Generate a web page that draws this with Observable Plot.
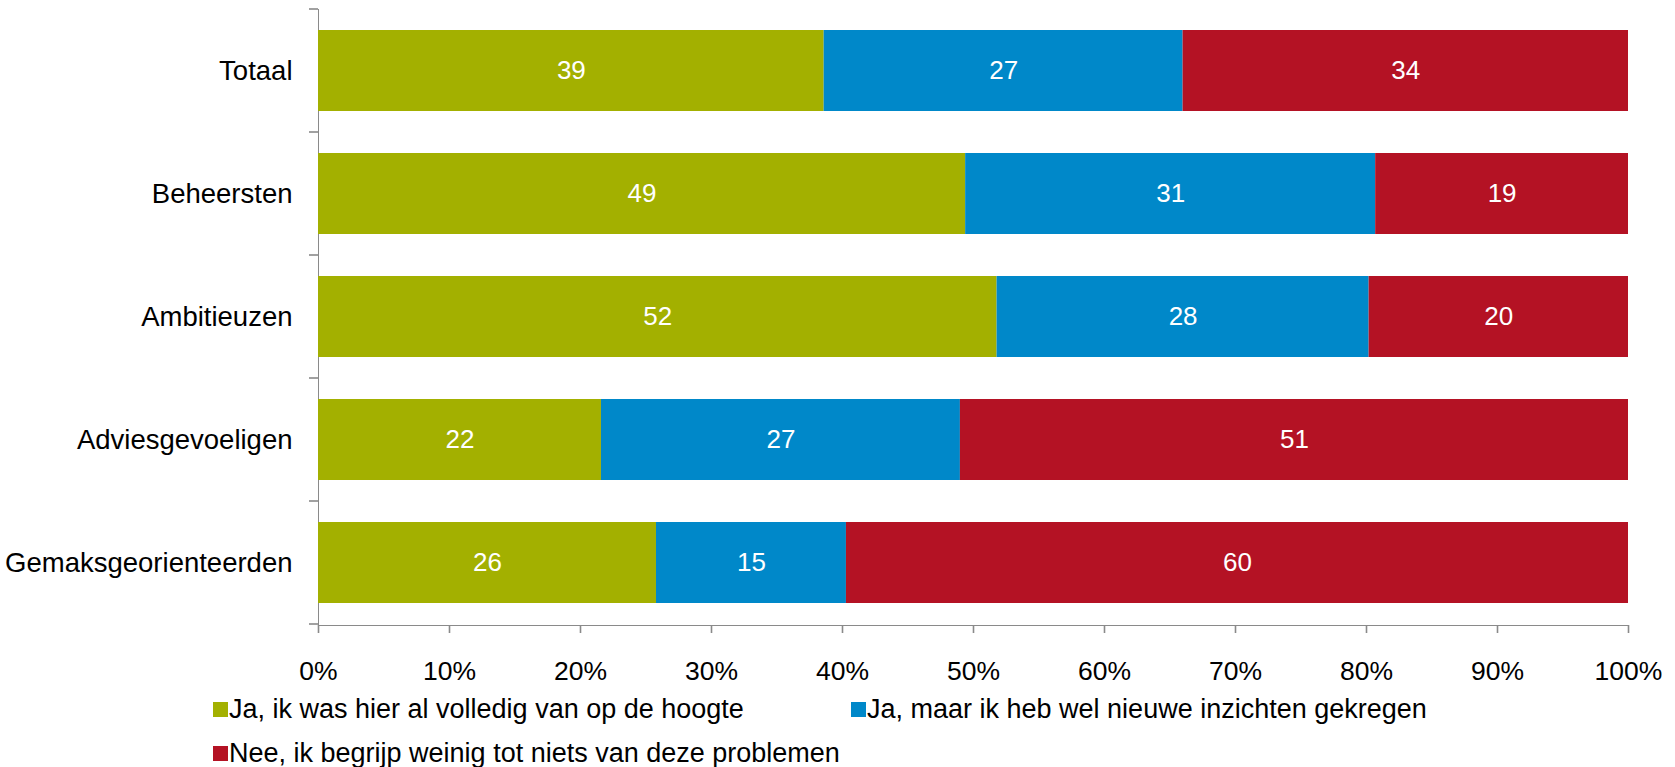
<!DOCTYPE html>
<html>
<head>
<meta charset="utf-8">
<script src="https://cdn.jsdelivr.net/npm/d3@7"></script>
<script src="https://cdn.jsdelivr.net/npm/@observablehq/plot@0.6"></script>
<style>
  html, body { margin: 0; padding: 0; background: #fff; }
  body { width: 1675px; height: 767px; overflow: hidden; font-family: "Liberation Sans", Arial, sans-serif; }
  #chart svg [aria-label^="x-axis"] text, #chart svg [aria-label^="y-axis"] text { fill: #000; }
  #chart svg [aria-label^="x-axis"] path, #chart svg [aria-label^="x-axis"] line,
  #chart svg [aria-label^="y-axis"] path, #chart svg [aria-label^="y-axis"] line { stroke-width: 1.6px; }
  #chart svg [aria-label^="y-axis"] text { font-size: 27.5px; }
  #legend { position: relative; margin-top: -3px; padding-left: 213px; width: 1300px; display: flex; flex-wrap: wrap; }
  .item { width: 638px; height: 44px; display: flex; align-items: center; font-size: 27px; color: #000; white-space: nowrap; }
  .sw { width: 15px; height: 15px; margin-right: 1px; flex: none; }
</style>
</head>
<body>
<div id="chart"></div>
<div id="legend"></div>
<script>
const categories = ["Totaal", "Beheersten", "Ambitieuzen", "Adviesgevoeligen", "Gemaksgeorienteerden"];
const series = [
  "Ja, ik was hier al volledig van op de hoogte",
  "Ja, maar ik heb wel nieuwe inzichten gekregen",
  "Nee, ik begrijp weinig tot niets van deze problemen"
];
const volledig = [38.6, 49.4, 51.8, 21.6, 25.8];
const nieuweInzichten = [27.4, 31.3, 28.4, 27.4, 14.5];
const weinig = [34.0, 19.3, 19.8, 51.0, 59.7];
const colors = ["#a3b000", "#0088c9", "#b41224"];
const xTicks = [0, 10, 20, 30, 40, 50, 60, 70, 80, 90, 100];

const seriesValues = [volledig, nieuweInzichten, weinig];
const data = [];
categories.forEach((c, i) => {
  series.forEach((s, j) => data.push({category: c, series: s, value: seriesValues[j][i]}));
});

const chart = Plot.plot({
  width: 1675,
  height: 690,
  marginTop: 9,
  marginBottom: 65,
  marginLeft: 318,
  marginRight: 47,
  style: {fontFamily: "'Liberation Sans', Arial, sans-serif", fontSize: "26.5px", color: "#8a8a8a", background: "white", overflow: "visible"},
  x: {domain: [0, 100], ticks: xTicks, tickFormat: d => d + "%", tickSize: 8, tickPadding: 28, line: true, label: null},
  y: {domain: categories, paddingInner: 0.341, paddingOuter: 0.17, tickSize: 0, tickPadding: 26, line: true, label: null},
  color: {domain: series, range: colors},
  marks: [
    Plot.barX(data, Plot.stackX({x: "value", y: "category", fill: "series"})),
    Plot.text(data, Plot.stackX({x: "value", y: "category", z: "series", text: d => Math.round(d.value), fill: "white", fontSize: 26}))
  ]
});
document.getElementById("chart").appendChild(chart);

// boundary ticks on the category axis
const ys = chart.scale("y");
const xs = chart.scale("x");
const gap = ys.step - ys.bandwidth;
const bounds = categories.map(c => ys.apply(c) - gap / 2);
bounds.push(ys.apply(categories[categories.length - 1]) + ys.bandwidth + gap / 2);
const x0 = xs.apply(0);
d3.select(chart).append("g").attr("stroke", "#8a8a8a").attr("stroke-width", 1.6)
  .selectAll("line").data(bounds).join("line")
  .attr("x1", x0 - 9).attr("x2", x0).attr("y1", d => d).attr("y2", d => d);

// legend
const legend = d3.select("#legend");
series.forEach((s, i) => {
  const it = legend.append("div").attr("class", "item");
  it.append("div").attr("class", "sw").style("background", colors[i]);
  it.append("span").text(s);
});
</script>
</body>
</html>
